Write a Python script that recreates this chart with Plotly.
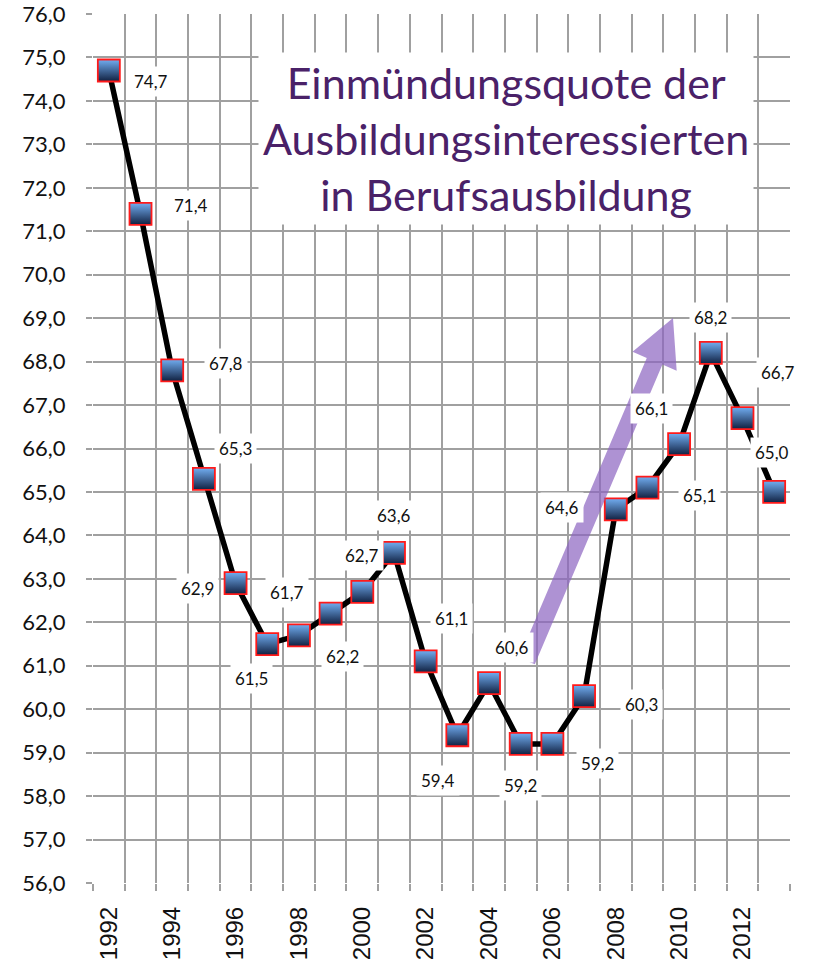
import plotly.graph_objects as go
import math

years = list(range(1992, 2014))
values = [74.7, 71.4, 67.8, 65.3, 62.9, 61.5, 61.7, 62.2, 62.7, 63.6, 61.1,
          59.4, 60.6, 59.2, 59.2, 60.3, 64.6, 65.1, 66.1, 68.2, 66.7, 65.0]
tick_years = list(range(1992, 2013, 2))
y_ticks = list(range(56, 77))
title_lines = ["Einmündungsquote der", "Ausbildungsinteressierten", "in Berufsausbildung"]

# label offsets in screen pixels (dx right, dy down) - styling only
label_dx = [42, 50, 54, 32, -38, -16, -12, 12, 0, 0, 26, -19, 23, 0, 45, 57, -54, 52, -28, 0, 36, -2]
label_dy = [11, -8, -7, -30, 5, 34, -43, 43, -36, -37, -43, 45, -36, 42, 20, 8, -2, 8, -36, -35, -46, -39]

W, H = 815, 969
ML, MR, MT, MB = 93, 25, 14, 86
PW, PH = W - ML - MR, H - MT - MB

fig = go.Figure()
fig.add_trace(go.Scatter(
    x=years, y=values, mode="lines+markers",
    line=dict(color="black", width=5.5),
    marker=dict(symbol="square", size=22, color="#72aef2",
                gradient=dict(type="vertical", color="#102040"),
                line=dict(color="#ff1a1a", width=1.8)),
    showlegend=False, hoverinfo="skip",
))

annotations = []
for yr, v, dx, dy in zip(years, values, label_dx, label_dy):
    annotations.append(dict(
        x=yr, y=v, xref="x", yref="y", text=f"{v:.1f}".replace(".", ","),
        showarrow=False, xshift=dx, yshift=-dy, bgcolor="white", borderpad=4,
        xanchor="center", yanchor="middle",
        font=dict(family="Lato", size=17, color="#111111"),
    ))

def to_paper(p):
    # page pixel -> paper coordinates
    return ((p[0] - ML) / PW, 1 - (p[1] - MT) / PH)

# title box
tx, ty = to_paper((506, 138))
annotations.append(dict(
    x=tx, y=ty, xref="paper", yref="paper", xanchor="center", yanchor="middle",
    text="<br>".join(title_lines), showarrow=False, align="center",
    bgcolor="white", borderpad=4,
    font=dict(family="Lato", size=43, color="#4a2168"),
))

# purple arrow (decoration) in page pixel space -> paper coordinates
tail = (527, 661)
tip = (673, 318)
dxp, dyp = tip[0] - tail[0], tip[1] - tail[1]
L = math.hypot(dxp, dyp)
ux, uy = dxp / L, dyp / L
nx, ny = -uy, ux
hw, hhw, hl = 8.5, 24, 47
bx, by = tip[0] - ux * hl, tip[1] - uy * hl
pts = [
    (tail[0] + nx * hw, tail[1] + ny * hw),
    (bx + nx * hw, by + ny * hw),
    (bx + nx * hhw, by + ny * hhw),
    tip,
    (bx - nx * hhw, by - ny * hhw),
    (bx - nx * hw, by - ny * hw),
    (tail[0] - nx * hw, tail[1] - ny * hw),
]
path = "M " + " L ".join(f"{to_paper(p)[0]:.5f},{to_paper(p)[1]:.5f}" for p in pts) + " Z"

fig.update_layout(
    width=W, height=H,
    margin=dict(l=ML, r=MR, t=MT, b=MB, autoexpand=False),
    paper_bgcolor="white", plot_bgcolor="white",
    separators=",.",
    annotations=annotations,
    shapes=[dict(type="path", path=path, xref="paper", yref="paper",
                 fillcolor="rgba(140,100,192,0.7)", line=dict(width=0), layer="above")],
    xaxis=dict(
        range=[1991.5, 2013.5], tickmode="array", tickvals=tick_years,
        ticktext=[str(y) for y in tick_years], tickangle=-90, automargin=False,
        showgrid=False, ticks="", zeroline=False, showline=False,
        tickfont=dict(family="Liberation Sans", size=24, color="#111111"),
        ticklabelstandoff=18, ticklabeloverflow="allow",
        minor=dict(tickmode="array", tickvals=[y - 0.5 for y in years] + [2013.5],
                   showgrid=True, gridcolor="#a0a0a0", gridwidth=2,
                   ticks="outside", ticklen=7, tickcolor="#a0a0a0", tickwidth=2),
    ),
    yaxis=dict(
        range=[56, 76], tickmode="array", tickvals=y_ticks, tickformat=".1f",
        automargin=False,
        showgrid=True, gridcolor="#a0a0a0", gridwidth=2, zeroline=False, showline=False,
        ticks="outside", ticklen=6, tickcolor="#a0a0a0", tickwidth=2,
        tickfont=dict(family="Lato", size=22, color="#111111"),
        ticklabelstandoff=16, ticklabeloverflow="allow",
    ),
)

fig.write_html("out.html", config={"displayModeBar": False},
               post_script="document.body.style.margin='0';")
